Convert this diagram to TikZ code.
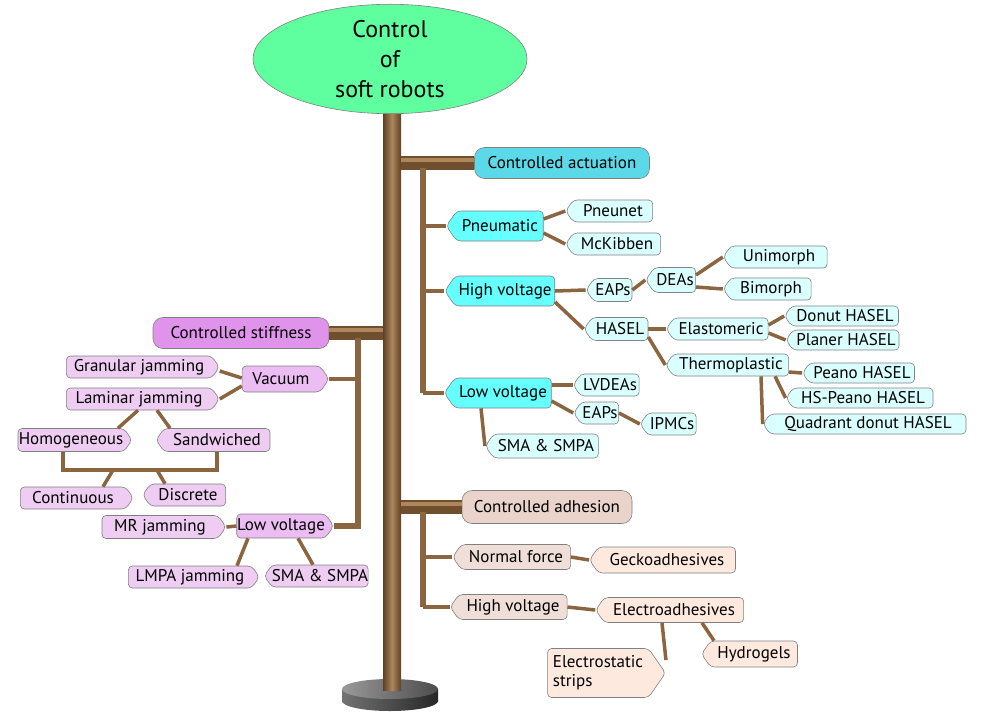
\documentclass[tikz,border=0pt]{standalone}
\usepackage{fontspec}
\setmainfont{PT Sans}
\usetikzlibrary{shapes.geometric, shapes.symbols}

\definecolor{rootgreen}{HTML}{5FFF9F}
\definecolor{actmain}{HTML}{5CD9E8}
\definecolor{actmid}{HTML}{66FFFF}
\definecolor{actleaf}{HTML}{DAFFFF}
\definecolor{stfmain}{HTML}{E093EB}
\definecolor{stfmid}{HTML}{ECBDF3}
\definecolor{stfleaf}{HTML}{EFCDF3}
\definecolor{adhmain}{HTML}{E9D3CB}
\definecolor{adhmid}{HTML}{F0DFD9}
\definecolor{adhleaf}{HTML}{FEE9DF}
\definecolor{barkdark}{HTML}{5E4024}
\definecolor{barklight}{HTML}{AE875C}
\definecolor{twigbrown}{HTML}{8A6540}

\begin{document}
\begin{tikzpicture}[x=1pt, y=-1pt,
    every node/.style={font=\fontsize{17}{19}\selectfont, draw=black!50, line width=0.6pt, inner sep=0pt},
    tagl/.style={signal, signal to=west, signal pointer angle=110, rounded corners=4pt},
    tagr/.style={signal, signal to=east, signal pointer angle=110, rounded corners=4pt},
    headbox/.style={rectangle, rounded corners=10pt, minimum height=31pt},
    limb/.style={draw=barkdark!60!twigbrown, line width=14pt, postaction={draw=barklight, line width=4pt, transform canvas={yshift=3pt}}},
    stem/.style={draw=twigbrown, line width=6pt},
    twig/.style={draw=twigbrown, line width=3.5pt}]
    \useasboundingbox (0,0) rectangle (981,718);

    % base and trunk
    \shade [left color=black!55, right color=black!85] (342,689) rectangle (438,701);
    \shade [left color=black!55, right color=black!85] (390,701) ellipse [x radius=48, y radius=10];
    \shade [left color=black!40, right color=black!70] (390,689) ellipse [x radius=48, y radius=10];
    \node (trunk) at (392,395) [draw=none, minimum width=18pt, minimum height=590pt, left color=barkdark, right color=barkdark, middle color=barklight] {};
    \node (root) at (390,59) [ellipse, fill=rootgreen, minimum width=274pt, minimum height=102pt, align=center, font=\fontsize{24}{30}\selectfont] {Control\\of\\soft robots};

    % actuation
    \node (act) at (562,163) [headbox, fill=actmain, minimum width=175pt] {Controlled actuation};
    \node (pneu) at (500,226) [tagl, fill=actmid, minimum width=97pt, minimum height=30pt] {Pneumatic};
    \node (pneunet) at (613,211) [tagl, fill=actleaf, minimum width=87pt, minimum height=22pt] {Pneunet};
    \node (mck) at (617,244) [tagl, fill=actleaf, minimum width=95pt, minimum height=22pt] {McKibben};
    \node (hv) at (505,291) [tagl, fill=actmid, minimum width=110pt, minimum height=30pt] {High voltage};
    \node (eapsA) at (613,290) [tagl, fill=actleaf, minimum width=46pt, minimum height=23pt] {EAPs};
    \node (deas) at (675,280) [tagl, fill=actleaf, minimum width=50pt, minimum height=25pt] {DEAs};
    \node (uni) at (779,257) [tagl, fill=actleaf, minimum width=104pt, minimum height=22pt] {Unimorph};
    \node (bi) at (771,289) [tagl, fill=actleaf, minimum width=88pt, minimum height=22pt] {Bimorph};
    \node (hasel) at (620,329) [tagl, fill=actleaf, minimum width=64pt, minimum height=23pt] {HASEL};
    \node (elast) at (721,329) [tagl, fill=actleaf, minimum width=102pt, minimum height=22pt] {Elastomeric};
    \node (donut) at (845,316) [tagl, fill=actleaf, minimum width=114pt, minimum height=20pt] {Donut HASEL};
    \node (planer) at (846,340) [tagl, fill=actleaf, minimum width=113pt, minimum height=20pt] {Planer HASEL};
    \node (thermo) at (731,365) [tagl, fill=actleaf, minimum width=123pt, minimum height=22pt] {Thermoplastic};
    \node (peano) at (862,373) [tagl, fill=actleaf, minimum width=112pt, minimum height=20pt] {Peano HASEL};
    \node (hspeano) at (863,398) [tagl, fill=actleaf, minimum width=147pt, minimum height=20pt] {HS-Peano HASEL};
    \node (quad) at (868,424) [tagl, fill=actleaf, minimum width=203pt, minimum height=20pt] {Quadrant donut HASEL};
    \node (lv) at (503,393) [tagl, fill=actmid, minimum width=107pt, minimum height=30pt] {Low voltage};
    \node (lvdeas) at (610,385) [tagl, fill=actleaf, minimum width=66pt, minimum height=22pt] {LVDEAs};
    \node (eapsB) at (600,413) [tagl, fill=actleaf, minimum width=45pt, minimum height=22pt] {EAPs};
    \node (ipmcs) at (672,424) [tagl, fill=actleaf, minimum width=56pt, minimum height=22pt] {IPMCs};
    \node (smaA) at (546,446) [tagl, fill=actleaf, minimum width=113pt, minimum height=24pt] {SMA \& SMPA};

    \coordinate (actstem) at (423,168);
    \draw [limb] (trunk.east |- act.west) -- (act.west);
    \draw [stem] (actstem) -- (actstem |- lv.west);
    \draw [twig] (actstem |- pneu.west) -- (pneu.west);
    \draw [twig] (actstem |- hv.west) -- (hv.west);
    \draw [twig] (actstem |- lv.west) -- (lv.west);
    \draw [twig] ([yshift=7pt]pneu.east) -- (pneunet.west);
    \draw [twig] ([yshift=-7pt]pneu.east) -- (mck.west);
    \draw [twig] (hv.east) -- (eapsA.west);
    \draw [twig] ([yshift=-11pt]hv.east) -- (hasel.west);
    \draw [twig] (eapsA.east) -- (deas.west);
    \draw [twig] ([yshift=5pt]deas.east) -- (uni.west);
    \draw [twig] ([yshift=-7pt]deas.east) -- (bi.west);
    \draw [twig] (hasel.east) -- (elast.west);
    \draw [twig] ([yshift=-8pt]hasel.east) -- (thermo.west);
    \draw [twig] ([yshift=4pt]elast.east) -- (donut.west);
    \draw [twig] ([yshift=-4pt]elast.east) -- (planer.west);
    \draw [twig] ([yshift=-7pt]thermo.east) -- (peano.west);
    \draw [twig] ([xshift=44pt]thermo.south) -- (hspeano.west);
    \draw [twig] ([xshift=30pt]thermo.south) -- (quad.west);
    \draw [twig] ([yshift=8pt]lv.east) -- (lvdeas.west);
    \draw [twig] ([yshift=-8pt]lv.east) -- (eapsB.west);
    \draw [twig] (eapsB.east) -- (ipmcs.west);
    \draw [twig] ([xshift=-22pt]lv.south) -- (smaA.west);

    % stiffness
    \node (stiff) at (241,333) [headbox, fill=stfmain, minimum width=176pt] {Controlled stiffness};
    \node (vac) at (281,379) [tagr, fill=stfmid, minimum width=87pt, minimum height=26pt] {Vacuum};
    \node (gran) at (139,367) [tagr, fill=stfleaf, minimum width=153pt, minimum height=22pt] {Granular jamming};
    \node (lam) at (139,399) [tagr, fill=stfleaf, minimum width=153pt, minimum height=22pt] {Laminar jamming};
    \node (homog) at (71,440) [tagr, fill=stfleaf, minimum width=114pt, minimum height=23pt] {Homogeneous};
    \node (sandw) at (217,440) [tagl, fill=stfleaf, minimum width=114pt, minimum height=23pt] {Sandwiched};
    \node (cont) at (73,498) [tagr, fill=stfleaf, minimum width=113pt, minimum height=22pt] {Continuous};
    \node (disc) at (188,495) [tagl, fill=stfleaf, minimum width=83pt, minimum height=22pt] {Discrete};
    \node (mr) at (160,527) [tagr, fill=stfleaf, minimum width=124pt, minimum height=23pt] {MR jamming};
    \node (lvs) at (281,526) [tagr, fill=stfmid, minimum width=97pt, minimum height=24pt] {Low voltage};
    \node (lmpa) at (190,577) [tagr, fill=stfleaf, minimum width=131pt, minimum height=22pt] {LMPA jamming};
    \node (smaB) at (320,576) [tagl, fill=stfleaf, minimum width=103pt, minimum height=22pt] {SMA \& SMPA};

    \coordinate (stfstem) at (358,338);
    \coordinate (jl) at (113,470);
    \coordinate (jr) at (157,470);
    \draw [limb] (trunk.west |- stiff.east) -- (stiff.east);
    \draw [stem] (stfstem) -- (stfstem |- lvs.east) -- (lvs.east);
    \draw [twig] (stfstem |- vac.east) -- (vac.east);
    \draw [twig] ([yshift=1pt]vac.west) -- ([yshift=-4pt]gran.east);
    \draw [twig] ([yshift=-7pt]vac.west) -- (lam.east);
    \draw [twig] ([xshift=-1pt]lam.south) -- ([xshift=47pt]homog.north);
    \draw [twig] ([xshift=18pt]lam.south) -- ([xshift=-47pt]sandw.north);
    \draw [twig] ([xshift=-8pt]homog.south) -- ++(0,18) -| (sandw.south);
    \draw [twig] (jl) -- ([xshift=30pt]cont.north);
    \draw [twig] (jr) -- ([xshift=-23pt]disc.north);
    \draw [twig] (mr.east) -- (lvs.west);
    \draw [twig] ([xshift=-33pt]lvs.south) -- ([xshift=47pt]lmpa.north);
    \draw [twig] ([xshift=17pt]lvs.south) -- ([xshift=-7pt]smaB.north);

    % adhesion
    \node (adh) at (547,507) [headbox, fill=adhmain, minimum width=170pt, minimum height=33pt] {Controlled adhesion};
    \node (nf) at (516,557) [tagl, fill=adhmid, minimum width=118pt, minimum height=25pt] {Normal force};
    \node (gecko) at (667,560) [tagl, fill=adhleaf, minimum width=146pt, minimum height=26pt] {Geckoadhesives};
    \node (hva) at (513,607) [tagl, fill=adhmid, minimum width=117pt, minimum height=25pt] {High voltage};
    \node (electro) at (674,610) [tagl, fill=adhleaf, minimum width=148pt, minimum height=25pt] {Electroadhesives};
    \node (strips) at (598,673) [tagr, fill=adhleaf, minimum width=118pt, minimum height=49pt, align=left] {Electrostatic\\strips\hspace*{50pt}};
    \node (hydro) at (754,654) [tagl, fill=adhleaf, minimum width=96pt, minimum height=26pt] {Hydrogels};

    \coordinate (adhstem) at (423,512);
    \draw [limb] (trunk.east |- adh.west) -- (adh.west);
    \draw [stem] (adhstem) -- (adhstem |- hva.west);
    \draw [twig] (adhstem |- nf.west) -- (nf.west);
    \draw [twig] (adhstem |- hva.west) -- (hva.west);
    \draw [twig] (nf.east) -- (gecko.west);
    \draw [twig] (hva.east) -- (electro.west);
    \draw [twig] ([xshift=-12pt]electro.south) -- ([yshift=13pt]strips.east);
    \draw [twig] ([xshift=28pt]electro.south) -- ([xshift=-40pt]hydro.north);
\end{tikzpicture}
\end{document}
